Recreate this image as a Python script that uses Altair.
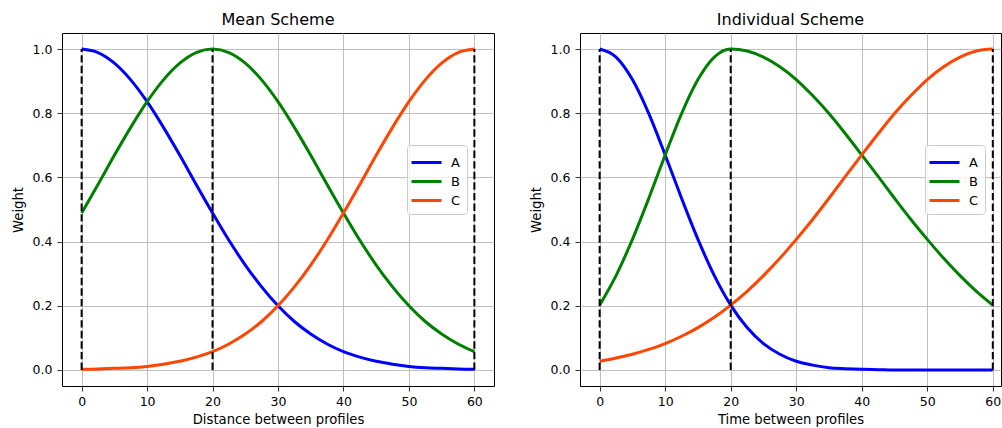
import altair as alt
import pandas as pd

# ---- data ----
x_vals = [0, 2.5, 5, 7.5, 10, 12.5, 15, 17.5, 20, 22.5, 25, 27.5, 30,
          32.5, 35, 37.5, 40, 42.5, 45, 47.5, 50, 52.5, 55, 57.5, 60]

mean_A = [1.000, 0.989, 0.956, 0.904, 0.836, 0.756, 0.669, 0.578, 0.489,
          0.404, 0.327, 0.259, 0.200, 0.151, 0.112, 0.081, 0.057, 0.040,
          0.027, 0.018, 0.011, 0.007, 0.005, 0.003, 0.002]
mean_B = [0.489, 0.578, 0.669, 0.756, 0.836, 0.904, 0.956, 0.989, 1.000,
          0.989, 0.956, 0.904, 0.836, 0.756, 0.669, 0.578, 0.489, 0.404,
          0.327, 0.259, 0.200, 0.151, 0.112, 0.081, 0.057]
mean_C = [0.002, 0.003, 0.005, 0.007, 0.011, 0.018, 0.027, 0.040, 0.057,
          0.081, 0.112, 0.151, 0.200, 0.259, 0.327, 0.404, 0.489, 0.578,
          0.669, 0.756, 0.836, 0.904, 0.956, 0.989, 1.000]

ind_A = [1.000, 0.975, 0.905, 0.799, 0.670, 0.535, 0.407, 0.294, 0.202,
         0.132, 0.082, 0.049, 0.027, 0.015, 0.007, 0.004, 0.002, 0.001,
         0.000, 0.000, 0.000, 0.000, 0.000, 0.000, 0.000]
ind_B = [0.202, 0.294, 0.407, 0.535, 0.670, 0.799, 0.905, 0.975, 1.000,
         0.994, 0.975, 0.945, 0.905, 0.855, 0.799, 0.736, 0.670, 0.603,
         0.535, 0.469, 0.407, 0.348, 0.294, 0.245, 0.202]
ind_C = [0.027, 0.037, 0.049, 0.064, 0.082, 0.105, 0.132, 0.164, 0.202,
         0.245, 0.294, 0.348, 0.407, 0.469, 0.535, 0.603, 0.670, 0.736,
         0.799, 0.855, 0.905, 0.945, 0.975, 0.994, 1.000]

series_names = ["A", "B", "C"]
series_colors = ["#0000ff", "#008000", "#ff4500"]
vline_x = [0, 20, 60]
vline_lo = [0, 0, 0]
vline_hi = [1, 1, 1]
x_ticks = [0, 10, 20, 30, 40, 50, 60]
y_ticks = [0.0, 0.2, 0.4, 0.6, 0.8, 1.0]

FONT = "DejaVu Sans"
LEGEND_LINE = "M-1.3,0L1.7,0"


def panel(title, xtitle, A, B, C, width, xmax):
    n = len(x_vals)
    df = pd.DataFrame({
        "x": x_vals * 3,
        "w": A + B + C,
        "s": [series_names[0]] * n + [series_names[1]] * n + [series_names[2]] * n,
    })
    vdf = pd.DataFrame({"x": vline_x, "y0": vline_lo, "y1": vline_hi})
    xs = alt.Scale(domain=[-3, xmax], nice=False, zero=False)
    ys = alt.Scale(domain=[-0.05, 1.05], nice=False, zero=False)
    lines = alt.Chart(df).mark_line(strokeWidth=3, interpolate="monotone").encode(
        x=alt.X("x:Q", scale=xs, title=xtitle,
                axis=alt.Axis(values=x_ticks, format="d")),
        y=alt.Y("w:Q", scale=ys, title="Weight",
                axis=alt.Axis(values=y_ticks, format=".1f")),
        color=alt.Color("s:N",
                        scale=alt.Scale(domain=series_names, range=series_colors),
                        legend=alt.Legend(title=None, orient="none",
                                          legendX=345, legendY=112,
                                          symbolType=LEGEND_LINE)),
    )
    rules = alt.Chart(vdf).mark_rule(
        color="black", strokeWidth=2, strokeDash=[7.4, 3.2]
    ).encode(
        x=alt.X("x:Q", title=xtitle),
        y=alt.Y("y0:Q", title="Weight"),
        y2="y1:Q",
    )
    return alt.layer(lines, rules).properties(
        width=width, height=353, title=alt.TitleParams(title)
    )


left = panel("Mean Scheme", "Distance between profiles",
             mean_A, mean_B, mean_C, 432, 63)
right = panel("Individual Scheme", "Time between profiles",
              ind_A, ind_B, ind_C, 421, 61.25)

chart = alt.hconcat(left, right, spacing=34).resolve_legend(
    color="independent"
).properties(
    padding={"left": 11, "top": 11, "right": 0, "bottom": 0}
).configure_view(
    stroke="black", strokeWidth=1
).configure_axis(
    grid=True, gridColor="#b0b0b0", gridWidth=0.8,
    domain=False, ticks=True, tickColor="black", tickSize=5, tickWidth=0.8,
    labelFont=FONT, labelFontSize=12.5, labelColor="black", labelPadding=5,
    titleFont=FONT, titleFontSize=13.2, titleFontWeight="normal",
    titleColor="black", titlePadding=6.5,
).configure_axisX(
    labelPadding=4, titlePadding=6,
).configure_title(
    font=FONT, fontSize=16, fontWeight="normal", color="black",
    anchor="middle", offset=5, baseline="alphabetic",
).configure_legend(
    fillColor="rgba(255,255,255,0.8)", strokeColor="#cccccc", cornerRadius=3,
    padding=6, symbolStrokeWidth=3, symbolSize=400,
    labelFont=FONT, labelFontSize=13, labelColor="black", labelOffset=15,
    rowPadding=0,
)

chart.save("out.html", embed_options={"renderer": "svg", "actions": False})
